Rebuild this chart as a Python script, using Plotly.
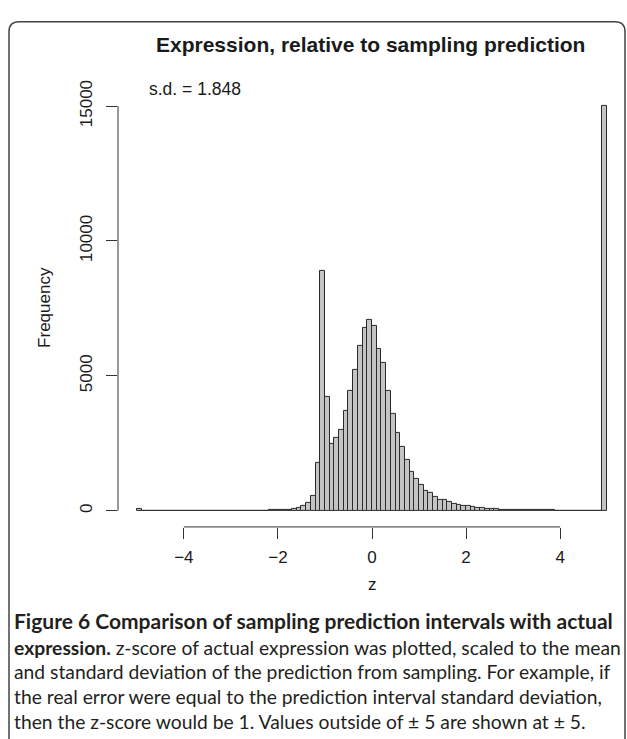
import plotly.graph_objects as go

W, H = 627, 739

# ---- data: histogram of z-scores, bins of width 0.1 from -5 to 5 ----
bin_width = 0.1
bin_left_edges = [round(-5 + i * 0.1, 1) for i in range(100)]
counts = [
    # -5.0 .. -4.1
    60, 4, 3, 3, 3, 3, 3, 3, 3, 3,
    # -4.0 .. -3.1
    3, 3, 4, 4, 4, 4, 5, 5, 5, 6,
    # -3.0 .. -2.1
    6, 7, 7, 8, 9, 10, 11, 12, 14, 16,
    # -2.0 .. -1.1
    18, 25, 35, 55, 90, 161, 281, 548, 1769, 8907,
    # -1.0 .. -0.1
    4218, 2474, 2694, 3011, 3692, 4448, 5204, 6093, 6775, 7069,
    # 0.0 .. 0.9
    6835, 5983, 5483, 4437, 3607, 2902, 2376, 1879, 1440, 1184,
    # 1.0 .. 1.9
    965, 731, 647, 501, 402, 391, 343, 245, 232, 197,
    # 2.0 .. 2.9
    161, 135, 110, 88, 73, 62, 51, 45, 40, 35,
    # 3.0 .. 3.9
    31, 28, 25, 22, 20, 18, 16, 15, 13, 12,
    # 4.0 .. 4.9
    11, 10, 9, 8, 8, 7, 6, 6, 5, 15000,
]
x_ticks = [-4, -2, 0, 2, 4]
y_ticks = [0, 5000, 10000, 15000]
title_text = "Expression, relative to sampling prediction"
sd_text = "s.d. = 1.848"
caption_lines = [
    "<b>Figure 6 Comparison of sampling prediction intervals with actual</b>",
    "<b>expression.</b> z-score of actual expression was plotted, scaled to the mean",
    "and standard deviation of the prediction from sampling. For example, if",
    "the real error were equal to the prediction interval standard deviation,",
    "then the z-score would be 1. Values outside of ± 5 are shown at ± 5.",
]

centers = [e + bin_width / 2 for e in bin_left_edges]


def px(x):
    return x / W


def py(y):
    return 1 - y / H


x0p, x1p = 118, 626
y0p, y1p = 81, 524  # top, bottom in pixels
xdom = [px(x0p), px(x1p)]
ydom = [py(y1p), py(y0p)]

fig = go.Figure()
fig.add_trace(go.Bar(
    x=centers, y=counts, width=bin_width,
    marker=dict(color="#c4c4c4", line=dict(color="#2a2a2a", width=1)),
    showlegend=False, hoverinfo="x+y",
))

axis_font = dict(family="Liberation Sans, Arial, sans-serif", size=17, color="#1a1a1a")

fig.update_layout(
    width=W, height=H,
    margin=dict(l=0, r=0, t=0, b=0),
    paper_bgcolor="white", plot_bgcolor="white",
    bargap=0,
    xaxis=dict(
        domain=xdom, range=[-5.4, 5.4], showgrid=False, zeroline=False,
        showline=False, tickmode="array", tickvals=x_ticks,
        ticktext=["\u22124", "\u22122", "0", "2", "4"],
        ticks="outside", ticklen=11, tickwidth=1, tickcolor="#333",
        tickfont=axis_font, ticklabelstandoff=4,
    ),
    yaxis=dict(
        domain=ydom, range=[-600, 15600], showgrid=False, zeroline=False,
        showline=False, tickmode="array", tickvals=y_ticks,
        ticktext=[str(v) for v in y_ticks],
        ticks="outside", ticklen=11, tickwidth=1, tickcolor="#333",
        tickangle=-90, tickfont=axis_font, ticklabelstandoff=7,
    ),
)

# R-style axis lines spanning first to last tick
fig.add_shape(type="line", xref="x", yref="paper", x0=x_ticks[0], x1=x_ticks[-1],
              y0=ydom[0], y1=ydom[0], line=dict(color="#333", width=1))
fig.add_shape(type="line", xref="paper", yref="y", x0=xdom[0], x1=xdom[0],
              y0=y_ticks[0], y1=y_ticks[-1], line=dict(color="#333", width=1))

# rounded frame
r = 10
L, T, R, B = 9, 12, 625, 760
path = (f"M {px(L)},{py(B)} L {px(L)},{py(T + r)} "
        f"Q {px(L)},{py(T)} {px(L + r)},{py(T)} "
        f"L {px(R - r)},{py(T)} Q {px(R)},{py(T)} {px(R)},{py(T + r)} "
        f"L {px(R)},{py(B)}")
fig.add_shape(type="path", xref="paper", yref="paper", path=path,
              line=dict(color="#444", width=1.5))

# titles / labels
fig.add_annotation(x=px(370), y=py(35), xref="paper", yref="paper", text=f"<b>{title_text}</b>",
                   showarrow=False, xanchor="center", yanchor="middle",
                   font=dict(family="Liberation Sans, Arial, sans-serif", size=21, color="#1a1a1a"))
fig.add_annotation(x=px(147), y=py(80), xref="paper", yref="paper", text=sd_text,
                   showarrow=False, xanchor="left", yanchor="middle",
                   font=dict(family="Liberation Sans, Arial, sans-serif", size=17.5, color="#1a1a1a"))
fig.add_annotation(x=px(372), y=py(582), xref="paper", yref="paper", text="z",
                   showarrow=False, xanchor="center", yanchor="middle", font=axis_font)
fig.add_annotation(x=px(45), y=py(302), xref="paper", yref="paper", text="Frequency",
                   showarrow=False, xanchor="center", yanchor="middle", textangle=-90, font=axis_font)

cap_sizes = [21, 19.3, 19.3, 19.3, 19.3]
cap_y = [619, 646, 671, 696, 721]
for line, yy, fs in zip(caption_lines, cap_y, cap_sizes):
    fig.add_annotation(x=px(12), y=py(yy), xref="paper", yref="paper", text=line,
                       showarrow=False, xanchor="left", yanchor="middle",
                       font=dict(family="Lato, Open Sans, sans-serif", size=fs, color="#231f20"))

fig.write_html("out.html")
